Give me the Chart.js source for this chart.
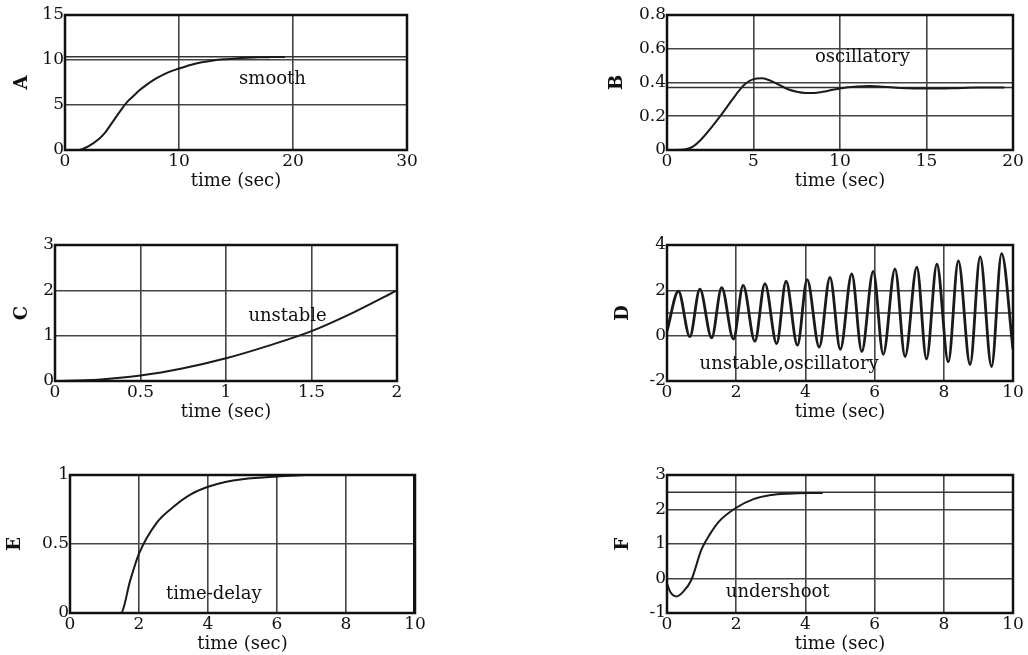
<!DOCTYPE html>
<html>
<head>
<meta charset="utf-8">
<script src="https://cdn.jsdelivr.net/npm/chart.js@4.4.0/dist/chart.umd.min.js"></script>
<style>
  body { margin: 0; background: #fff; width: 1028px; height: 655px; position: relative; overflow: hidden; }
  canvas { position: absolute; }
</style>
</head>
<body>
<canvas id="pA"></canvas>
<canvas id="pB"></canvas>
<canvas id="pC"></canvas>
<canvas id="pD"></canvas>
<canvas id="pE"></canvas>
<canvas id="pF"></canvas>
<script>
const aTime = [0, 1, 1.5, 2, 3, 3.5, 4, 5, 5.5, 6, 6.5, 7, 8, 9, 10, 11, 12, 13, 14, 15, 16, 17, 18, 19.3];
const aValue = [0, 0, 0.1, 0.37, 1.25, 1.9, 2.8, 4.6, 5.4, 6.0, 6.6, 7.1, 7.95, 8.6, 9.05, 9.45, 9.75, 9.95, 10.08, 10.18, 10.25, 10.3, 10.32, 10.33];
const aSetpoint = 10.35;

const bTime = [0, 1, 1.5, 2, 2.5, 3, 3.5, 4, 4.5, 5, 5.5, 6, 6.5, 7, 7.5, 8, 8.5, 9, 9.5, 10, 11, 11.7, 12.5, 13.5, 15, 16.5, 18, 19.5];
const bValue = [0, 0.003, 0.02, 0.065, 0.125, 0.19, 0.26, 0.33, 0.39, 0.42, 0.425, 0.41, 0.385, 0.36, 0.345, 0.338, 0.338, 0.345, 0.355, 0.365, 0.376, 0.379, 0.375, 0.368, 0.364, 0.366, 0.37, 0.37];
const bSetpoint = 0.37;

const cTime = [0, 0.25, 0.5, 0.75, 1, 1.25, 1.5, 1.75, 2];
const cValue = [0, 0.03, 0.12, 0.28, 0.5, 0.78, 1.1, 1.52, 2.0];

const dTime = [0, 0.33, 0.66, 0.95, 1.29, 1.58, 1.92, 2.2, 2.54, 2.83, 3.17, 3.44, 3.77, 4.05, 4.4, 4.71, 5.01, 5.34, 5.63, 5.96, 6.25, 6.59, 6.88, 7.22, 7.5, 7.8, 8.13, 8.42, 8.76, 9.05, 9.38, 9.67, 10];
const dValue = [0.2, 1.96, -0.04, 2.05, -0.1, 2.12, -0.15, 2.22, -0.25, 2.3, -0.35, 2.4, -0.42, 2.47, -0.5, 2.57, -0.6, 2.72, -0.7, 2.84, -0.82, 2.95, -0.92, 3.02, -1.03, 3.15, -1.15, 3.3, -1.27, 3.48, -1.36, 3.62, -0.6];
const dSetpoint = 1;

const eTime = [0, 1.47, 1.75, 2, 2.5, 3, 3.5, 4, 4.5, 5, 6, 6.8];
const eValue = [0, 0, 0.24, 0.43, 0.65, 0.77, 0.86, 0.915, 0.95, 0.97, 0.99, 1.0];
const eEdgeTime = [10, 10];
const eEdgeValue = [0, 1];

const fTime = [0, 0.1, 0.28, 0.45, 0.7, 1.0, 1.25, 1.5, 2.0, 2.5, 3.0, 3.5, 4.5];
const fValue = [-0.15, -0.4, -0.52, -0.4, -0.05, 0.85, 1.3, 1.65, 2.05, 2.3, 2.42, 2.46, 2.48];
const fSetpoint = 2.5;

const xTitle = 'time (sec)';

const panels = [
  { id: 'pA', name: 'A', box: [65, 15, 407, 150], x: [0, 30, 10], y: [0, 15, 5], time: aTime, value: aValue, setpoint: aSetpoint, note: ['smooth', 18.2, 7.8], titleDx: -43 },
  { id: 'pB', name: 'B', box: [667, 15, 1013, 150], x: [0, 20, 5], y: [0, 0.8, 0.2], time: bTime, value: bValue, setpoint: bSetpoint, note: ['oscillatory', 11.3, 0.55], titleDx: -50 },
  { id: 'pC', name: 'C', box: [55, 245, 397, 381], x: [0, 2, 0.5], y: [0, 3, 1], time: cTime, value: cValue, note: ['unstable', 1.36, 1.42], titleDx: -33 },
  { id: 'pD', name: 'D', box: [667, 245, 1013, 381], x: [0, 10, 2], y: [-2, 4, 2], time: dTime, value: dValue, setpoint: dSetpoint, note: ['unstable,oscillatory', 3.53, -1.27], titleDx: -44, width: 2.8 },
  { id: 'pE', name: 'E', box: [70, 475, 415, 613], x: [0, 10, 2], y: [0, 1, 0.5], time: eTime, value: eValue, edge: [eEdgeTime, eEdgeValue], note: ['time-delay', 4.17, 0.136], titleDx: -55 },
  { id: 'pF', name: 'F', box: [667, 475, 1013, 613], x: [0, 10, 2], y: [-1, 3, 1], time: fTime, value: fValue, setpoint: fSetpoint, note: ['undershoot', 3.2, -0.39], titleDx: -44 },
];

const FONT = '"DejaVu Serif", "Liberation Serif", serif';
const INK = '#111';
const tickFont = { family: FONT, size: 17 };
const fmt = v => String(+v.toFixed(3));

// frame, curve label and y-axis letter
const decor = {
  id: 'decor',
  afterDatasetsDraw(chart, args, opts) {
    const { ctx, chartArea: a, scales } = chart;
    ctx.save();
    ctx.strokeStyle = INK;
    ctx.lineWidth = 2.5;
    ctx.strokeRect(a.left, a.top, a.right - a.left, a.bottom - a.top);
    ctx.fillStyle = INK;
    ctx.textAlign = 'center';
    ctx.textBaseline = 'middle';
    ctx.font = '18px ' + FONT;
    const [txt, nx, ny] = opts.note;
    ctx.fillText(txt, scales.x.getPixelForValue(nx), scales.y.getPixelForValue(ny));
    ctx.translate(a.left + opts.titleDx, (a.top + a.bottom) / 2);
    ctx.rotate(-Math.PI / 2);
    ctx.font = 'bold 18px ' + FONT;
    ctx.fillText(opts.name, 0, 0);
    ctx.restore();
  }
};

const PAD_L = 65, PAD_T = 15, PAD_R = 25, PAD_B = 45;

panels.forEach(p => {
  const [l, t, r, b] = p.box;
  const canvas = document.getElementById(p.id);
  canvas.width = (r - l) + PAD_L + PAD_R;
  canvas.height = (b - t) + PAD_T + PAD_B;
  canvas.style.left = (l - PAD_L) + 'px';
  canvas.style.top = (t - PAD_T) + 'px';

  const datasets = [{
    data: p.time.map((tt, i) => ({ x: tt, y: p.value[i] })),
    borderColor: '#1a1a1a',
    borderWidth: p.width || 2,
    pointRadius: 0,
    cubicInterpolationMode: 'monotone',
  }];
  if (p.setpoint !== undefined) {
    datasets.push({
      data: [{ x: p.x[0], y: p.setpoint }, { x: p.x[1], y: p.setpoint }],
      borderColor: '#333',
      borderWidth: 1.5,
      pointRadius: 0,
    });
  }
  if (p.edge) {
    datasets.push({
      data: p.edge[0].map((tt, i) => ({ x: tt, y: p.edge[1][i] })),
      borderColor: INK,
      borderWidth: 4,
      pointRadius: 0,
    });
  }

  new Chart(canvas, {
    type: 'line',
    data: { datasets },
    plugins: [decor],
    options: {
      responsive: false,
      animation: false,
      layout: { padding: { left: 0, top: PAD_T, right: PAD_R, bottom: 0 } },
      plugins: {
        legend: { display: false },
        tooltip: { enabled: false },
        decor: { note: p.note, name: p.name, titleDx: p.titleDx },
      },
      scales: {
        x: {
          type: 'linear',
          min: p.x[0],
          max: p.x[1],
          afterFit: s => { s.height = PAD_B; },
          ticks: { stepSize: p.x[2], color: INK, padding: 1, maxRotation: 0, font: tickFont, callback: fmt },
          grid: { color: '#444', lineWidth: 1.6, drawTicks: false },
          border: { display: false },
          title: { display: true, text: xTitle, color: INK, padding: { top: 0, bottom: 3 }, font: { family: FONT, size: 18 } },
        },
        y: {
          type: 'linear',
          min: p.y[0],
          max: p.y[1],
          afterFit: s => { s.width = PAD_L; },
          ticks: { stepSize: p.y[2], color: INK, padding: 1, font: tickFont, callback: fmt },
          grid: { color: '#444', lineWidth: 1.6, drawTicks: false },
          border: { display: false },
        },
      },
    },
  });
});
</script>
</body>
</html>
